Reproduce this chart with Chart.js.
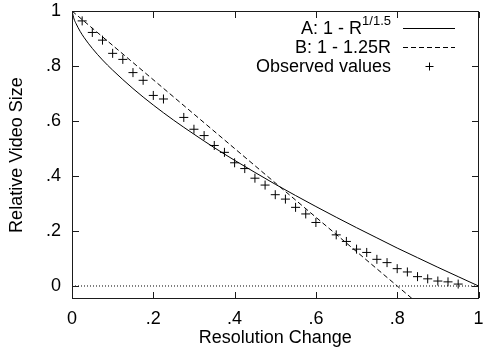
<!DOCTYPE html>
<html>
<head>
<meta charset="utf-8">
<script src="https://cdn.jsdelivr.net/npm/chart.js@4.4.1/dist/chart.umd.min.js"></script>
<style>
html,body{margin:0;padding:0;background:#fff;}
#wrap{width:484px;height:352px;}
</style>
</head>
<body>
<div id="wrap"><canvas id="c" width="484" height="352"></canvas></div>
<script>
// ---- data ----
const xTickValues = [0, 0.2, 0.4, 0.6, 0.8, 1];
const xTickLabels = ['0', '.2', '.4', '.6', '.8', '1'];
const yTickValues = [0, 0.2, 0.4, 0.6, 0.8, 1];
const yTickLabels = ['0', '.2', '.4', '.6', '.8', '1'];

const curveA_x = [0, 0.005, 0.01, 0.02, 0.03, 0.05, 0.075, 0.1, 0.15, 0.2, 0.25, 0.3, 0.35, 0.4, 0.45, 0.5, 0.55, 0.6, 0.65, 0.7, 0.75, 0.8, 0.85, 0.9, 0.95, 1];
const curveA_y = [1, 0.971, 0.954, 0.926, 0.903, 0.864, 0.822, 0.785, 0.718, 0.658, 0.603, 0.552, 0.503, 0.457, 0.413, 0.370, 0.329, 0.289, 0.250, 0.212, 0.175, 0.138, 0.103, 0.068, 0.034, 0];

const lineB_x = [0, 0.8, 0.86];
const lineB_y = [1, 0, -0.075];

const obs_x = [0.025, 0.05, 0.075, 0.1, 0.125, 0.15, 0.175, 0.2, 0.225, 0.275, 0.3, 0.325, 0.35, 0.375, 0.4, 0.425, 0.45, 0.475, 0.5, 0.525, 0.55, 0.575, 0.6, 0.65, 0.675, 0.7, 0.725, 0.75, 0.775, 0.8, 0.825, 0.85, 0.875, 0.9, 0.925, 0.95];
const obs_y = [0.964, 0.922, 0.894, 0.846, 0.824, 0.776, 0.748, 0.693, 0.680, 0.613, 0.570, 0.547, 0.511, 0.486, 0.448, 0.427, 0.392, 0.367, 0.332, 0.316, 0.286, 0.262, 0.231, 0.186, 0.162, 0.134, 0.122, 0.097, 0.085, 0.063, 0.051, 0.034, 0.026, 0.018, 0.015, 0.007];

const zeroLine_x = [0, 1];
const zeroLine_y = [0, 0];

const legendMain = ['A: 1 - R', 'B: 1 - 1.25R', 'Observed values'];
const legendSup = ['1/1.5', '', ''];

const xTitle = 'Resolution Change';
const yTitle = 'Relative Video Size';

// ---- build ----
const zip = (xs, ys) => xs.map((x, i) => ({x: x, y: ys[i]}));
const FONT = "'Liberation Sans', Arial, Helvetica, sans-serif";
const X_MIN = 0, X_MAX = 1, Y_MIN = -0.0473, Y_MAX = 1;

function drawLegend(chart) {
  const ctx = chart.ctx;
  const rightText = 391;
  const sx0 = 403, sx1 = 455;
  const rows = [28, 47, 66];
  ctx.save();
  ctx.fillStyle = '#000';
  ctx.strokeStyle = '#000';
  ctx.textBaseline = 'middle';
  rows.forEach((y, i) => {
    let right = rightText;
    if (legendSup[i]) {
      ctx.font = '13px ' + FONT;
      const w = ctx.measureText(legendSup[i]).width;
      ctx.textAlign = 'left';
      ctx.fillText(legendSup[i], right - w, y - 7);
      right -= w;
    }
    ctx.font = '18px ' + FONT;
    ctx.textAlign = 'right';
    ctx.fillText(legendMain[i], right, y + 1);
    const ds = chart.data.datasets[i];
    ctx.lineWidth = 1;
    if (i < 2) {
      ctx.setLineDash(ds.borderDash || []);
      ctx.beginPath();
      ctx.moveTo(sx0, y + 0.5); ctx.lineTo(sx1, y + 0.5);
      ctx.stroke();
      ctx.setLineDash([]);
    } else {
      const cx = (sx0 + sx1) / 2 + 0.5, cy = y + 0.5, r = 4;
      ctx.beginPath();
      ctx.moveTo(cx - r, cy); ctx.lineTo(cx + r, cy);
      ctx.moveTo(cx, cy - r); ctx.lineTo(cx, cy + r);
      ctx.stroke();
    }
  });
  ctx.restore();
}

function drawFrame(chart) {
  const ctx = chart.ctx;
  const a = chart.chartArea;
  const sx = chart.scales.x, sy = chart.scales.y;
  const L = 6;
  const l = Math.round(a.left), r = Math.round(a.right) - 1;
  const t = Math.round(a.top), b = Math.round(a.bottom) - 1;
  ctx.save();
  ctx.fillStyle = '#1b1b1b';
  ctx.fillRect(l, t, r - l + 1, 1);
  ctx.fillRect(l, b, r - l + 1, 1);
  ctx.fillRect(l, t, 1, b - t + 1);
  ctx.fillRect(r, t, 1, b - t + 1);
  xTickValues.forEach(v => {
    const px = Math.round(sx.getPixelForValue(v));
    ctx.fillRect(px, b - L, 1, L);
    ctx.fillRect(px, t + 1, 1, L);
  });
  yTickValues.forEach(v => {
    const py = Math.round(sy.getPixelForValue(v));
    ctx.fillRect(l + 1, py, L, 1);
    ctx.fillRect(r - L, py, L, 1);
  });
  ctx.restore();
}

const gnuDecor = { id: 'gnuDecor', afterDraw(chart) { drawFrame(chart); drawLegend(chart); } };

new Chart(document.getElementById('c'), {
  type: 'scatter',
  data: {
    datasets: [
      { label: 'A', data: zip(curveA_x, curveA_y), showLine: true,
        borderColor: '#000', borderWidth: 1, pointRadius: 0, cubicInterpolationMode: 'monotone', fill: false },
      { label: 'B', data: zip(lineB_x, lineB_y), showLine: true,
        borderColor: '#000', borderWidth: 1, borderDash: [5, 3], pointRadius: 0, fill: false },
      { label: 'Observed', data: zip(obs_x, obs_y), showLine: false,
        pointStyle: 'cross', pointRadius: 4.5, pointBorderWidth: 1, borderColor: '#000', backgroundColor: '#000' },
      { label: 'zero', data: zip(zeroLine_x, zeroLine_y), showLine: true,
        borderColor: '#000', borderWidth: 1, borderDash: [1, 2], pointRadius: 0, fill: false }
    ]
  },
  options: {
    responsive: false,
    animation: false,
    events: [],
    layout: { padding: { top: 11, right: 5, left: 0, bottom: 0 } },
    plugins: { legend: { display: false }, tooltip: { enabled: false } },
    scales: {
      x: {
        type: 'linear', min: X_MIN, max: X_MAX,
        afterBuildTicks: s => { s.ticks = xTickValues.map(v => ({value: v})); },
        afterFit: s => { s.height = 53; s.paddingLeft = 0; s.paddingRight = 0; },
        grid: { display: false, drawTicks: false },
        border: { display: false },
        ticks: { color: '#000', padding: 9, maxRotation: 0, autoSkip: false,
                 font: { family: FONT, size: 18 },
                 callback: (v) => xTickLabels[xTickValues.indexOf(v)] },
        title: { display: true, text: xTitle, color: '#000', font: { family: FONT, size: 18 },
                 padding: { top: 0, bottom: 3 } }
      },
      y: {
        type: 'linear', min: Y_MIN, max: Y_MAX,
        afterBuildTicks: s => { s.ticks = yTickValues.map(v => ({value: v})); },
        afterFit: s => { s.width = 72; s.paddingTop = 0; s.paddingBottom = 0; },
        grid: { display: false, drawTicks: false },
        border: { display: false },
        ticks: { color: '#000', padding: 11, autoSkip: false,
                 font: { family: FONT, size: 18 },
                 callback: (v) => yTickLabels[yTickValues.indexOf(v)] },
        title: { display: true, text: yTitle, color: '#000', font: { family: FONT, size: 18 },
                 padding: { top: 6, bottom: 0 } }
      }
    }
  },
  plugins: [gnuDecor]
});
</script>
</body>
</html>
